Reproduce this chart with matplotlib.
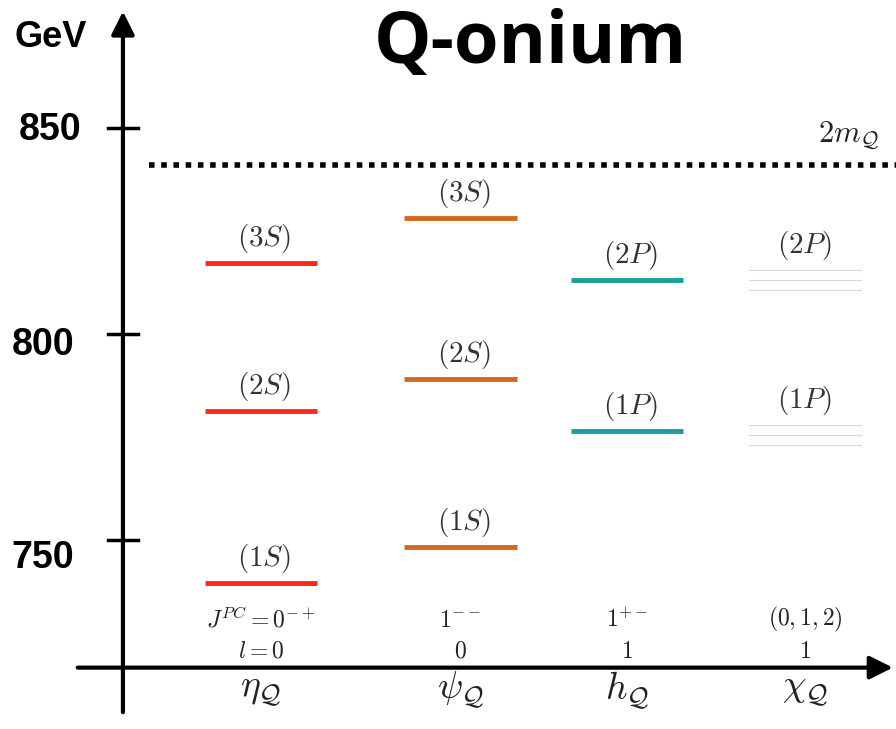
import matplotlib.pyplot as plt

# masses in GeV
eta_levels = [739.6, 781.3, 817.2]
eta_names = ['(1S)', '(2S)', '(3S)']
psi_levels = [748.3, 789.1, 828.2]
psi_names = ['(1S)', '(2S)', '(3S)']
h_levels = [776.5, 813.1]
h_names = ['(1P)', '(2P)']
chi_1p = [777.9, 775.5, 773.1]
chi_2p = [815.5, 813.1, 810.7]
threshold = 841.0

families = [r'$\eta_{\mathcal{Q}}$', r'$\psi_{\mathcal{Q}}$', r'$h_{\mathcal{Q}}$', r'$\chi_{\mathcal{Q}}$']
jpc = [r'$J^{PC}=0^{-+}$', r'$1^{--}$', r'$1^{+-}$', r'$(0,1,2)$']
ell = [r'$l=0$', r'$0$', r'$1$', r'$1$']
yticks = [750, 800, 850]

col_x = [0, 1.1, 2.02, 3.0]   # column centres
half = 0.31

plt.rcParams['mathtext.fontset'] = 'cm'
fig = plt.figure(figsize=(8.96, 7.29), dpi=100)
ax = fig.add_axes([0, 0, 1, 1])
ax.set_xlim(-1.439, 3.502)
ax.set_ylim(704.1, 881.1)
ax.axis('off')

axis_x = -0.761
axis_y = 719.0

# axes drawn by hand
ax.annotate('', xy=(axis_x, 879.0), xytext=(axis_x, 707.5),
            arrowprops=dict(arrowstyle='-|>,head_length=1.4,head_width=0.7', color='black', lw=3))
ax.annotate('', xy=(3.50, axis_y), xytext=(-1.026, axis_y),
            arrowprops=dict(arrowstyle='-|>,head_length=1.4,head_width=0.7', color='black', lw=3))
label_shift = {850: (-0.99, -0.5), 800: (-1.03, -2.7), 750: (-1.03, -4.4)}
for t in yticks:
    ax.plot([axis_x - 0.085, axis_x + 0.085], [t, t], color='black', lw=2.5)
    lx, dy = label_shift[t]
    ax.text(lx, t + dy, str(t), ha='right', va='center',
            fontsize=27, fontweight='bold', family='Liberation Sans')
ax.text(-1.36, 872.1, 'GeV', ha='left', va='center', fontsize=26,
        fontweight='bold', family='Liberation Sans')
ax.text(1.483, 870.3, 'Q-onium', ha='center', va='center', fontsize=52,
        fontweight='bold', family='Open Sans')

# 2m_Q threshold
ax.plot([-0.62, 3.502], [threshold, threshold], color='black', lw=4,
        linestyle=(0, (1, 1.2)))
ax.text(3.237, 848.3, r'$2m_{\mathcal{Q}}$', ha='center', va='center',
        fontsize=22, color='#222222')


def levels(x, vals, names, color):
    for v, n in zip(vals, names):
        ax.plot([x - half, x + half], [v, v], color=color, lw=3.5, solid_capstyle='butt')
        ax.text(x + 0.02, v + 2.0, r'$%s$' % n, ha='center', va='bottom',
                fontsize=21, color='#333333')


levels(col_x[0], eta_levels, eta_names, '#ff2a1a')
levels(col_x[1], psi_levels, psi_names, '#d2691e')
levels(col_x[2], h_levels, h_names, '#1a9e9e')

for group, name in [(chi_1p, '(1P)'), (chi_2p, '(2P)')]:
    for v in group:
        ax.plot([col_x[3] - half, col_x[3] + half], [v, v], color='#d8d8d8', lw=0.8)
    ax.text(col_x[3], max(group) + 2.0, r'$%s$' % name, ha='center', va='bottom',
            fontsize=21, color='#333333')

for i in range(4):
    ax.text(col_x[i], 730.6, jpc[i], ha='center', va='center', fontsize=17, color='#222222')
    ax.text(col_x[i], 723.1, ell[i], ha='center', va='center', fontsize=17, color='#222222')
    ax.text(col_x[i], 713.4, families[i], ha='center', va='center', fontsize=27, color='#222222')

fig.savefig('out.png', dpi=100)
